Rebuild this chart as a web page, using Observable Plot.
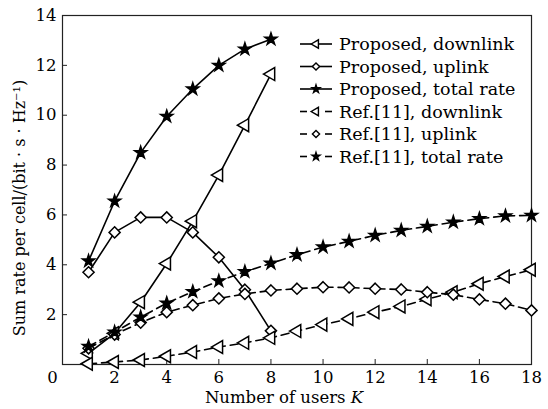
<!DOCTYPE html>
<html>
<head>
<meta charset="utf-8">
<script src="https://cdn.jsdelivr.net/npm/d3@7"></script>
<script src="https://cdn.jsdelivr.net/npm/@observablehq/plot@0.6"></script>
<style>
  html, body { margin: 0; padding: 0; background: #fff; }
  #chart { width: 548px; height: 409px; }
</style>
</head>
<body>
<div id="chart"></div>
<script>
// ---- data ----
const K_prop = [1, 2, 3, 4, 5, 6, 7, 8];
const prop_dl  = [0.45, 1.25, 2.5, 4.05, 5.75, 7.6, 9.6, 11.65];
const prop_ul  = [3.7, 5.3, 5.9, 5.9, 5.3, 4.3, 3.0, 1.35];
const prop_tot = [4.15, 6.55, 8.5, 9.95, 11.05, 12.0, 12.65, 13.05];

const K_ref = [1, 2, 3, 4, 5, 6, 7, 8, 9, 10, 11, 12, 13, 14, 15, 16, 17, 18];
const ref_dl  = [0.03, 0.1, 0.18, 0.33, 0.5, 0.7, 0.87, 1.07, 1.34, 1.6, 1.83, 2.1, 2.33, 2.62, 2.9, 3.24, 3.53, 3.8];
const ref_ul  = [0.65, 1.2, 1.68, 2.1, 2.38, 2.65, 2.83, 2.97, 3.04, 3.1, 3.09, 3.04, 3.01, 2.9, 2.8, 2.61, 2.44, 2.17];
const ref_tot = [0.72, 1.3, 1.9, 2.46, 2.92, 3.35, 3.72, 4.06, 4.4, 4.71, 4.94, 5.18, 5.38, 5.54, 5.71, 5.85, 5.96, 5.98];

const seriesNames = [
  "Proposed, downlink", "Proposed, uplink", "Proposed, total rate",
  "Ref.[11], downlink", "Ref.[11], uplink", "Ref.[11], total rate"
];
const xTicks = [0, 2, 4, 6, 8, 10, 12, 14, 16, 18];
const yTicks = [0, 2, 4, 6, 8, 10, 12, 14];
const xTitle = "Number of users ";
const xTitleItalic = "K";
const yTitle = "Sum rate per cell/(bit · s · Hz⁻¹)";

// ---- styles per series ----
const symbolOf = {dl: "triangle", ul: "diamond2", tot: "star"};
const rotateOf = {dl: -90, ul: 0, tot: 0};
const rOf = {dl: 4.8, ul: 5, tot: 3.8};
const fillOf = {dl: "white", ul: "white", tot: "black"};
const DASH = "8,5";

function rows(ks, vs, name, kind, dashed) {
  return ks.map((k, i) => ({K: k, v: vs[i], name, kind, dashed}));
}
const series = [
  rows(K_prop, prop_dl, seriesNames[0], "dl", false),
  rows(K_prop, prop_ul, seriesNames[1], "ul", false),
  rows(K_prop, prop_tot, seriesNames[2], "tot", false),
  rows(K_ref, ref_dl, seriesNames[3], "dl", true),
  rows(K_ref, ref_ul, seriesNames[4], "ul", true),
  rows(K_ref, ref_tot, seriesNames[5], "tot", true)
];

const marks = [];
for (const s of series) {
  const dashed = s[0].dashed;
  marks.push(Plot.line(s, {x: "K", y: "v", stroke: "black", strokeWidth: 1.6,
    strokeDasharray: dashed ? DASH : null}));
}
for (const s of series) {
  const kind = s[0].kind;
  marks.push(Plot.dot(s, {x: "K", y: "v", symbol: symbolOf[kind], r: rOf[kind],
    rotate: rotateOf[kind], fill: fillOf[kind], stroke: "black", strokeWidth: 1.5}));
}

const plot = Plot.plot({
  width: 548,
  height: 409,
  marginLeft: 62,
  marginRight: 17,
  marginTop: 15,
  marginBottom: 45,
  style: {fontFamily: "'DejaVu Serif', serif", fontSize: "16px", color: "black", background: "white"},
  x: {domain: [0, 18]},
  y: {domain: [0, 14]},
  marks: [
    Plot.frame({stroke: "#222", strokeWidth: 1.2}),
    Plot.axisX({ticks: xTicks.filter(d => d !== 0), tickSize: -5, tickPadding: 12, tickFormat: d => d, fontSize: 16.5, label: null, stroke: "#222"}),
    Plot.axisX({ticks: [0], tickSize: 0, tickPadding: 7, dx: -10, tickFormat: d => d, fontSize: 16.5, label: null}),
    Plot.axisY({ticks: yTicks.filter(d => d !== 0), tickSize: -5, tickPadding: 11, tickFormat: d => d, fontSize: 16.5, label: null, stroke: "#222"}),
    ...marks
  ]
});

document.getElementById("chart").appendChild(plot);

const svg = d3.select(plot);
// axis titles
const xt = svg.append("text")
  .attr("x", 284).attr("y", 403)
  .attr("text-anchor", "middle")
  .attr("font-size", 16.5)
  .attr("fill", "black");
xt.append("tspan").text(xTitle);
xt.append("tspan").attr("font-style", "italic").text(xTitleItalic);

svg.append("text")
  .attr("transform", "translate(25,208) rotate(-90)")
  .attr("text-anchor", "middle")
  .attr("font-size", 16)
  .attr("fill", "black")
  .text(yTitle);

// legend
const legX0 = 300, legX1 = 332, legTx = 339, legY0 = 44, legDy = 22.5;
const symGen = {dl: d3.symbolTriangle, ul: d3.symbolDiamond2, tot: d3.symbolStar};
const leg = svg.append("g").attr("text-anchor", "start");
series.forEach((s, i) => {
  const kind = s[0].kind, dashed = s[0].dashed;
  const y = legY0 + i * legDy;
  const g = leg.append("g");
  if (dashed) {
    g.append("line").attr("x1", legX0).attr("x2", legX0 + 7).attr("y1", y).attr("y2", y)
      .attr("stroke", "black").attr("stroke-width", 1.6);
    g.append("line").attr("x1", legX1 - 7).attr("x2", legX1).attr("y1", y).attr("y2", y)
      .attr("stroke", "black").attr("stroke-width", 1.6);
  } else {
    g.append("line").attr("x1", legX0).attr("x2", legX1).attr("y1", y).attr("y2", y)
      .attr("stroke", "black").attr("stroke-width", 1.6);
  }
  const r = rOf[kind] * 0.65;
  g.append("path")
    .attr("d", d3.symbol(symGen[kind], Math.PI * r * r)())
    .attr("transform", `translate(${(legX0 + legX1) / 2},${y}) rotate(${rotateOf[kind]})`)
    .attr("fill", fillOf[kind]).attr("stroke", "black").attr("stroke-width", 1.4);
  g.append("text").attr("x", legTx).attr("y", y).attr("dy", "0.35em")
    .attr("text-anchor", "start")
    .attr("font-size", 17.5).attr("fill", "black").text(s[0].name);
});
</script>
</body>
</html>
